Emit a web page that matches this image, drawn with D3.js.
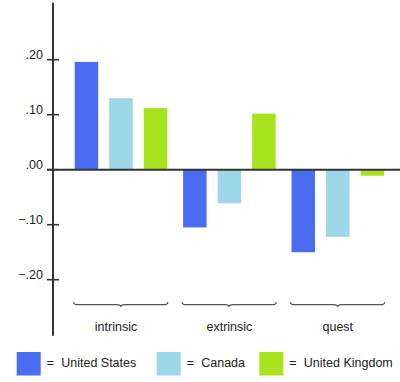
<!DOCTYPE html>
<html>
<head>
<meta charset="utf-8">
<script src="https://cdn.jsdelivr.net/npm/d3@7"></script>
<style>
  html, body { margin: 0; padding: 0; background: #fff; }
  text { font-family: "Liberation Sans", Arial, Helvetica, sans-serif; fill: #222; }
</style>
</head>
<body>
<svg id="chart" width="400" height="382"></svg>
<script>
const categories = ["intrinsic", "extrinsic", "quest"];
const seriesNames = ["United States", "Canada", "United Kingdom"];
const usValues = [0.196, -0.105, -0.150];
const canadaValues = [0.130, -0.061, -0.122];
const ukValues = [0.112, 0.102, -0.011];
const tickValues = [0.20, 0.10, 0.00, -0.10, -0.20];
const tickLabels = [".20", ".10", ".00", "\u2212.10", "\u2212.20"];
const colors = ["#4a6cf1", "#9dd8e8", "#a7e41e"];

const seriesValues = [usValues, canadaValues, ukValues];
const data = categories.map((c, i) => ({
  category: c,
  values: seriesNames.map((s, j) => ({ series: s, value: seriesValues[j][i], idx: j }))
}));

const svg = d3.select("#chart");

const y = d3.scaleLinear().domain([-0.3, 0.3]).range([334.7, 4.7]);
const x0 = d3.scaleBand().domain(categories).range([74.7, 384.1]).paddingInner(0.146).paddingOuter(0);
const x1 = d3.scaleBand().domain(seriesNames).range([0, x0.bandwidth()]).paddingInner(0.32).paddingOuter(0);

// bars
const groups = svg.append("g").selectAll("g").data(data).join("g")
  .attr("transform", d => `translate(${x0(d.category)},0)`);
groups.selectAll("rect").data(d => d.values).join("rect")
  .attr("x", d => x1(d.series))
  .attr("width", x1.bandwidth())
  .attr("y", d => y(Math.max(0, d.value)))
  .attr("height", d => Math.abs(y(d.value) - y(0)))
  .attr("fill", d => colors[d.idx]);

// zero line
svg.append("line")
  .attr("x1", 47).attr("x2", 400)
  .attr("y1", y(0)).attr("y2", y(0))
  .attr("stroke", "#333").attr("stroke-width", 2);

// y axis line
svg.append("line")
  .attr("x1", 53).attr("x2", 53)
  .attr("y1", y(0.3) - 2).attr("y2", y(-0.3) + 1)
  .attr("stroke", "#333").attr("stroke-width", 2);

// ticks
const ticks = svg.append("g").selectAll("g").data(tickValues).join("g");
ticks.append("line")
  .attr("x1", 47).attr("x2", 59)
  .attr("y1", d => y(d)).attr("y2", d => y(d))
  .attr("stroke", "#333").attr("stroke-width", 1.6);
ticks.append("text")
  .attr("x", 43).attr("y", d => y(d) - 0.5)
  .attr("text-anchor", "end")
  .attr("font-size", 12.5)
  .text((d, i) => tickLabels[i]);

// braces
const braceY = 304.7;
svg.append("g").selectAll("path").data(categories).join("path")
  .attr("d", c => {
    const a = x0(c) - 1, b = x0(c) + x0.bandwidth() + 0.5, m = (a + b) / 2;
    return `M${a},${braceY - 2.8} Q${a},${braceY} ${a + 4},${braceY}` +
           ` L${m - 4},${braceY} Q${m},${braceY} ${m},${braceY + 2.3}` +
           ` Q${m},${braceY} ${m + 4},${braceY} L${b - 4},${braceY}` +
           ` Q${b},${braceY} ${b},${braceY - 2.8}`;
  })
  .attr("fill", "none").attr("stroke", "#555").attr("stroke-width", 1.2);

// category labels
svg.append("g").selectAll("text").data(categories).join("text")
  .attr("x", (c, i) => x0(c) + x0.bandwidth() / 2 + (i === 0 ? -5 : 0))
  .attr("y", 330.5)
  .attr("text-anchor", "middle")
  .attr("font-size", 12.5)
  .text(c => c);

// legend
const legendX = [16.7, 156.7, 259.3];
const legend = svg.append("g").selectAll("g").data(seriesNames).join("g")
  .attr("transform", (d, i) => `translate(${legendX[i]},352)`);
legend.append("rect")
  .attr("width", 24).attr("height", 23.5)
  .attr("fill", (d, i) => colors[i]);
legend.append("text")
  .attr("x", 30).attr("y", 15)
  .attr("font-size", 12.5)
  .text("=");
legend.append("text")
  .attr("x", 44.5).attr("y", 15)
  .attr("font-size", 12.5)
  .text(d => d);
</script>
</body>
</html>
